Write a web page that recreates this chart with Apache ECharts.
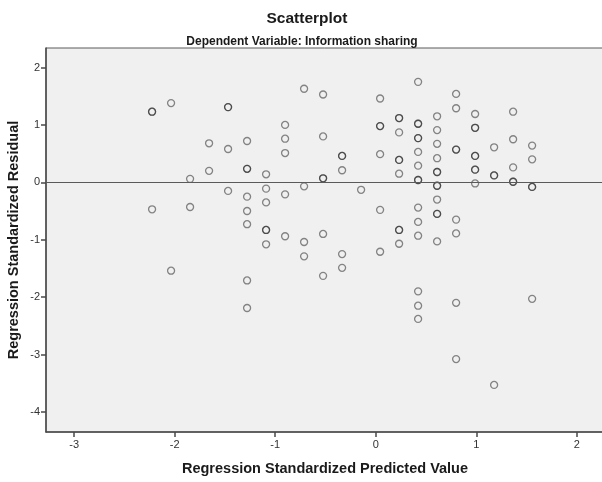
<!DOCTYPE html>
<html>
<head>
<meta charset="utf-8">
<script src="https://cdn.jsdelivr.net/npm/echarts@6/dist/echarts.min.js"></script>
<style>
  html, body { margin: 0; padding: 0; background: #ffffff; }
  #chart { width: 602px; height: 482px; }
</style>
</head>
<body>
<div id="chart"></div>
<script>
// Standardized predicted values (the discrete levels along the x axis)
const predictedLevels = [
  -2.225, -2.036, -1.847, -1.658, -1.469, -1.280, -1.091, -0.902, -0.713, -0.524, -0.335,
  -0.146, 0.043, 0.232, 0.421, 0.610, 0.799, 0.988, 1.177, 1.366, 1.555
];

// Standardized residuals observed at each predicted level (repeats are coincident cases)
const residualGroups = [
  [1.23, 1.23, -0.47],
  [1.38, -1.54],
  [0.06, -0.43],
  [0.68, 0.20],
  [1.31, 1.31, 0.58, -0.15],
  [0.72, 0.235, 0.235, -0.25, -0.50, -0.73, -1.71, -2.19],
  [0.14, -0.11, -0.35, -0.83, -0.83, -1.08],
  [1.00, 0.76, 0.51, -0.21, -0.94],
  [1.63, -0.07, -1.04, -1.29],
  [1.53, 0.80, 0.07, 0.07, -0.90, -1.63],
  [0.46, 0.46, 0.21, -1.25, -1.49],
  [-0.13],
  [1.46, 0.98, 0.98, 0.49, -0.48, -1.21],
  [1.12, 1.12, 0.87, 0.39, 0.39, 0.15, -0.83, -0.83, -1.07],
  [1.75, 1.02, 1.02, 0.77, 0.77, 0.53, 0.29, 0.04, 0.04, -0.44, -0.69, -0.93, -1.90, -2.15, -2.38],
  [1.15, 0.91, 0.67, 0.42, 0.18, 0.18, -0.06, -0.06, -0.30, -0.55, -0.55, -1.03],
  [1.54, 1.29, 0.57, 0.57, -0.65, -0.89, -2.10, -3.08],
  [1.19, 0.95, 0.95, 0.46, 0.46, 0.22, 0.22, -0.02],
  [0.61, 0.12, 0.12, -3.53],
  [1.23, 0.75, 0.26, 0.01, 0.01],
  [0.64, 0.40, -0.08, -0.08, -2.03]
];

const xTicks = [-3, -2, -1, 0, 1, 2];
const yTicks = [-4, -3, -2, -1, 0, 1, 2];

const points = [];
predictedLevels.forEach((x, i) => {
  residualGroups[i].forEach(y => points.push([x, y]));
});

const FONT = '"Liberation Sans", Arial, sans-serif';
const chart = echarts.init(document.getElementById('chart'), null, { renderer: 'canvas' });

chart.setOption({
  animation: false,
  backgroundColor: '#ffffff',
  title: [
    {
      text: 'Scatterplot',
      left: 302, textAlign: 'center', top: 6,
      textStyle: { fontFamily: FONT, fontSize: 15.5, fontWeight: 'bold', color: '#1a1a1a' }
    },
    {
      text: 'Dependent Variable: Information sharing',
      left: 297, textAlign: 'center', top: 31,
      textStyle: { fontFamily: FONT, fontSize: 12, fontWeight: 'bold', color: '#1a1a1a' }
    }
  ],
  grid: {
    left: 46, top: 48, right: -2, bottom: 50,
    outerBoundsMode: 'none',
    show: true,
    backgroundColor: '#f0f0f0',
    borderColor: '#5a5a5a',
    borderWidth: 1
  },
  xAxis: {
    type: 'value',
    min: -3.28, max: 2.27,
    name: 'Regression Standardized Predicted Value',
    nameLocation: 'middle',
    nameGap: 29,
    nameTextStyle: { fontFamily: FONT, fontSize: 14.5, fontWeight: 'bold', color: '#1a1a1a' },
    splitLine: { show: false },
    axisLine: { show: true, onZero: false, lineStyle: { color: '#4a4a4a', width: 1.5 } },
    axisTick: { show: true, length: 5, customValues: xTicks, lineStyle: { color: '#4a4a4a', width: 1.5 } },
    axisLabel: { customValues: xTicks, fontFamily: FONT, fontSize: 11, color: '#333', margin: 7 }
  },
  yAxis: {
    type: 'value',
    min: -4.35, max: 2.34,
    name: 'Regression Standardized Residual',
    nameLocation: 'middle',
    nameGap: 25,
    nameMoveOverlap: false,
    nameTextStyle: { fontFamily: FONT, fontSize: 14.5, fontWeight: 'bold', color: '#1a1a1a' },
    splitLine: { show: false },
    axisLine: { show: true, onZero: false, lineStyle: { color: '#4a4a4a', width: 1.5 } },
    axisTick: { show: true, length: 5, customValues: yTicks, lineStyle: { color: '#4a4a4a', width: 1.5 } },
    axisLabel: { customValues: yTicks, fontFamily: FONT, fontSize: 11, color: '#333', margin: 6 }
  },
  series: [{
    type: 'scatter',
    data: points,
    symbol: 'circle',
    symbolSize: 7,
    itemStyle: {
      color: 'rgba(0,0,0,0)',
      borderColor: 'rgba(20,20,20,0.62)',
      borderWidth: 1.3
    },
    markLine: {
      silent: true,
      symbol: ['none', 'none'],
      label: { show: false },
      lineStyle: { color: '#5a5a5a', width: 1.2, type: 'solid' },
      data: [{ yAxis: 0 }]
    }
  }]
});
</script>
</body>
</html>
